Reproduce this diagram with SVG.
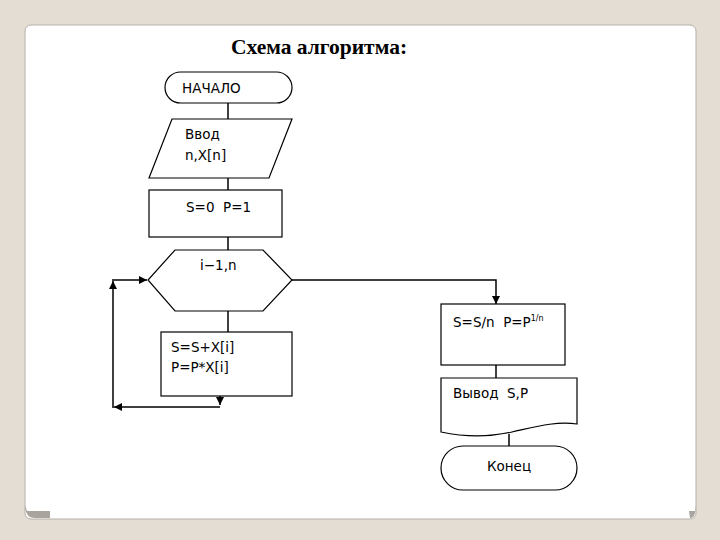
<svg xmlns="http://www.w3.org/2000/svg" width="720" height="540" viewBox="0 0 720 540">
<style>
.sh{fill:#fff;stroke:#000;stroke-width:1.2}
.t{font-family:"DejaVu Sans",Verdana,sans-serif;font-size:13.5px;fill:#000;white-space:pre}
.c{fill:none;stroke:#000;stroke-width:1.5}
</style>
<defs>
<marker id="ar" viewBox="0 0 10 10" refX="10" refY="5" markerWidth="9" markerHeight="8" markerUnits="userSpaceOnUse" orient="auto">
<path d="M0 0 L10 5 L0 10 Z" fill="#000"/>
</marker>
</defs>
<rect width="720" height="540" fill="#e4ddd3"/>
<rect x="25" y="25" width="671" height="494" rx="6" fill="#fff" stroke="#b5b0aa" stroke-width="1"/>
<path d="M25 505 Q25 518 35 518 L50 518 L50 511 L27 511 Z" fill="#a9a49e"/>
<path d="M696 505 Q696 518 690 518 L689 511 L695 511 Z" fill="#a9a49e"/>
<text x="319" y="54" text-anchor="middle" font-family="Liberation Serif,serif" font-weight="bold" font-size="21.5">Схема алгоритма:</text>
<g id="connectors">
<line class="c" x1="228" y1="103" x2="228" y2="119"/>
<line class="c" x1="228" y1="178" x2="228" y2="190"/>
<line class="c" x1="228" y1="237" x2="228" y2="250"/>
<line class="c" x1="228" y1="311" x2="228" y2="332"/>
<polyline class="c" points="292,280 496,280 496,304" marker-end="url(#ar)"/>
<line class="c" x1="496" y1="365" x2="496" y2="378"/>
<line class="c" x1="509" y1="434" x2="509" y2="446" stroke-width="1"/>
<line class="c" x1="220" y1="396" x2="220" y2="405" marker-end="url(#ar)"/>
<line class="c" x1="220" y1="407" x2="114" y2="407" marker-end="url(#ar)"/>
<line class="c" x1="113" y1="408" x2="113" y2="281" marker-end="url(#ar)"/>
<line class="c" x1="112" y1="280" x2="147" y2="280" marker-end="url(#ar)"/>
</g>
<g id="start">
<rect class="sh" x="165" y="72" width="127" height="31" rx="15.5"/>
<text class="t" x="182" y="93">НАЧАЛО</text>
</g>
<g id="input">
<polygon class="sh" points="172,119 292,119 269,178 149,178"/>
<text class="t" x="185" y="139">Ввод</text>
<text class="t" x="185" y="160">n,X[n]</text>
</g>
<g id="init">
<rect class="sh" x="149" y="190" width="133" height="47"/>
<text class="t" x="186" y="212">S=0  P=1</text>
</g>
<g id="loop">
<polygon class="sh" points="175,250 263,250 292,280 263,311 175,311 148,280"/>
<text class="t" x="200" y="270">i−1,n</text>
</g>
<g id="body">
<rect class="sh" x="161" y="332" width="131" height="64"/>
<text class="t" x="171" y="352">S=S+X[i]</text>
<text class="t" x="171" y="372">P=P*X[i]</text>
</g>
<g id="calc">
<rect class="sh" x="441" y="304" width="124" height="61"/>
<text class="t" x="453" y="327">S=S/n  P=P<tspan font-size="8" dy="-6">1/n</tspan></text>
</g>
<g id="output">
<path class="sh" d="M441 378 H577 V424 C555 421 535 427 512 432 C490 437 465 437 441 432 Z"/>
<text class="t" x="453" y="398">Вывод  S,P</text>
</g>
<g id="end">
<rect class="sh" x="441" y="446" width="136" height="44" rx="22"/>
<text class="t" x="509" y="471" text-anchor="middle" font-size="14">Конец</text>
</g>
</svg>
